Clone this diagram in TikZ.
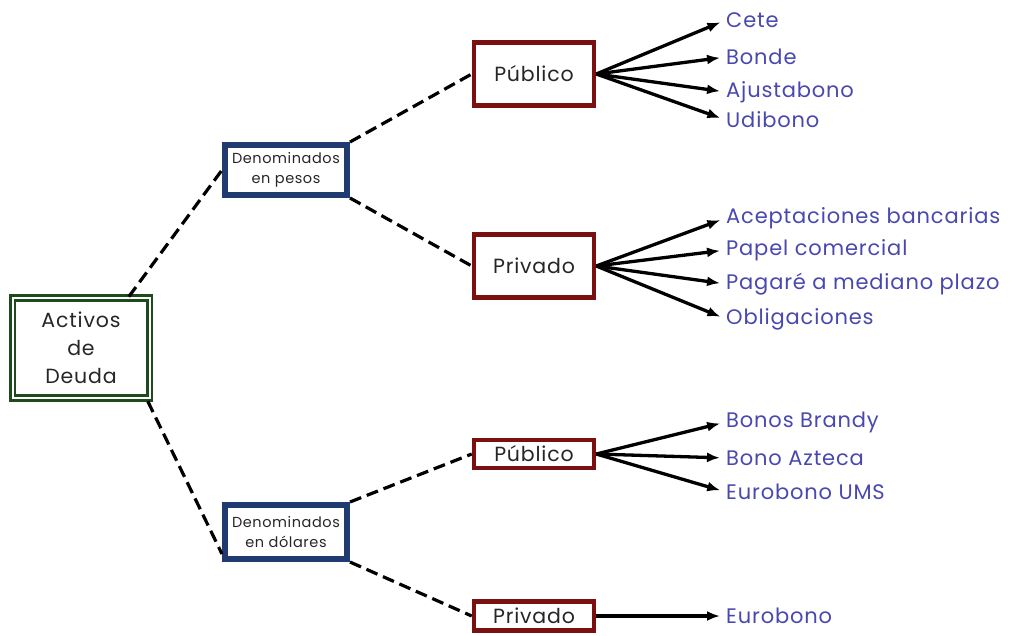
\documentclass[tikz,border=0pt]{standalone}
\usepackage{fontspec}
\setmainfont{Poppins}[LetterSpace=4]
\usetikzlibrary{arrows.meta}
\definecolor{rootgreen}{HTML}{1E4A1E}
\definecolor{curblue}{HTML}{1F3B70}
\definecolor{issred}{HTML}{7A1010}
\definecolor{leafblue}{HTML}{4848B0}
\tikzset{
  rootbox/.style={draw=rootgreen, double=white, double distance=2pt, line width=2.6pt,
    minimum width=137pt, minimum height=100pt, align=center, font=\fontsize{20.5}{28}\selectfont, text=black!85},
  curbox/.style={draw=curblue, line width=6pt, minimum width=122pt, align=center,
    font=\fontsize{14.5}{20}\selectfont, text=black!85},
  issbox/.style={draw=issred, line width=4.5pt, minimum width=120pt, font=\fontsize{20.5}{22}\selectfont, text=black!85},
  leaf/.style={anchor=west, inner sep=0pt, text=leafblue, font=\fontsize{21}{22}\selectfont},
  link/.style={dash pattern=on 12pt off 6pt, line width=3.2pt},
  arr/.style={-{Latex[length=13pt,width=10pt]}, line width=3.3pt, shorten >=6pt}
}
\begin{document}
\begin{tikzpicture}[x=1pt,y=-1pt]
\useasboundingbox (0,0) rectangle (1011,635);
% tree nodes
\node[rootbox] (root) at (81,348) {Activos\\de\\Deuda};
\node[curbox, minimum height=50pt] (pesos) at (286,170) {Denominados\\en pesos};
\node[curbox, minimum height=54pt] (dolares) at (286,532) {Denominados\\en dólares};
\node[issbox, minimum height=63pt] (pub1) at (534,74) {Público};
\node[issbox, minimum height=63pt] (priv1) at (534,266) {Privado};
\node[issbox, minimum height=28pt] (pub2) at (534,454) {Público};
\node[issbox, minimum height=29pt] (priv2) at (534,616) {Privado};
% instruments
\node[leaf] (cete) at (726,20) {Cete};
\node[leaf] (bonde) at (726,57) {Bonde};
\node[leaf] (ajus) at (726,92) {Ajustabono};
\node[leaf] (udi) at (726,120) {Udibono};
\node[leaf] (acep) at (726,218) {Aceptaciones bancarias};
\node[leaf] (papel) at (726,250) {Papel comercial};
\node[leaf] (pagare) at (726,284) {Pagaré a mediano plazo};
\node[leaf] (oblig) at (726,319) {Obligaciones};
\node[leaf] (brandy) at (726,422) {Bonos Brandy};
\node[leaf] (azteca) at (726,458) {Bono Azteca};
\node[leaf] (ums) at (726,492) {Eurobono UMS};
\node[leaf] (euro) at (726,616) {Eurobono};
% dashed links
\draw[link] (root.north east) ++(-22,0) -- (pesos.west);
\draw[link] (root.south east) ++(-3,2) -- ([yshift=8pt]dolares.south west);
\draw[link] (pesos.north east) -- (pub1.west);
\draw[link] (pesos.south east) -- (priv1.west);
\draw[link] (dolares.north east) -- (pub2.west);
\draw[link] (dolares.south east) -- (priv2.west);
% arrows
\foreach \t in {cete,bonde,ajus,udi} \draw[arr] (pub1.east) -- (\t.west);
\foreach \t in {acep,papel,pagare,oblig} \draw[arr] (priv1.east) -- (\t.west);
\foreach \t in {brandy,azteca,ums} \draw[arr] (pub2.east) -- (\t.west);
\draw[arr] (priv2.east) -- (euro.west);
\end{tikzpicture}
\end{document}
